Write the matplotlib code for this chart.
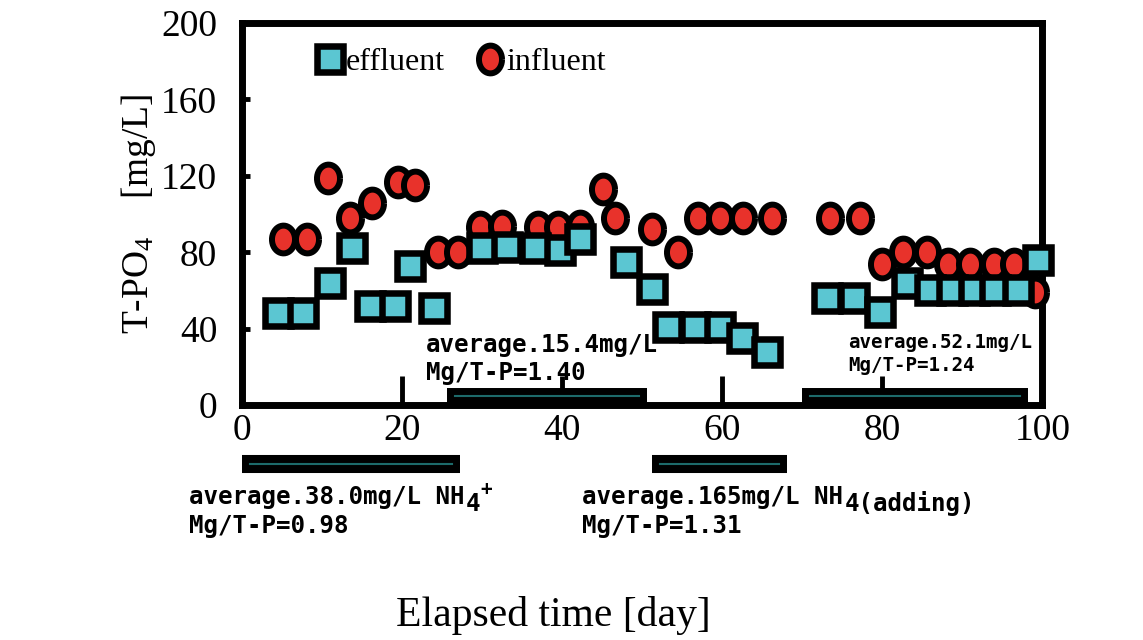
import numpy as np
import matplotlib
matplotlib.use("Agg")
import matplotlib.pyplot as plt
from matplotlib.lines import Line2D

# effluent / influent T-PO4 (mg/L) vs elapsed day
eff_day = [4.4, 7.6, 11.0, 13.75, 16.0, 19.1, 21.0, 23.9, 30.0, 33.1, 36.6, 39.75, 42.25,
           47.9, 51.25, 53.25, 56.6, 59.75, 62.4, 65.6, 73.1, 76.4, 79.75, 83.1, 86.0,
           88.75, 91.4, 94.1, 96.9, 99.4]
eff_val = [48, 48, 64, 82, 52, 52, 73, 51, 82, 83, 82, 81, 87,
           75, 61, 41, 41, 41, 35, 28, 56, 56, 49, 64, 60,
           60, 60, 60, 60, 76]

inf_day = [5.1, 8.1, 10.75, 13.5, 16.25, 19.4, 21.6, 24.4, 27.0, 29.75, 32.5, 36.9, 39.5,
           42.25, 45.1, 46.6, 51.25, 54.4, 56.9, 59.75, 62.6, 66.25, 73.5, 77.25, 80.0,
           82.6, 85.6, 88.25, 91.0, 93.9, 96.4, 99.1]
inf_val = [87, 87, 119, 98, 106, 117, 115, 80, 80, 93, 94, 93, 93,
           94, 113, 98, 92, 80, 98, 98, 98, 98, 98, 98, 74,
           80, 80, 74, 74, 74, 74, 59]

# operating periods (start day, end day)
periods_top = [(25.6, 50.6), (70.0, 98.2)]
periods_bottom = [(0.0, 27.2), (51.2, 68.1)]
top_line1 = ["average.15.4mg/L", "average.52.1mg/L"]
top_line2 = ["Mg/T-P=1.40", "Mg/T-P=1.24"]
bot_line1 = ["average.38.0mg/L NH", "average.165mg/L NH"]
bot_suffix = ["4", "4(adding)"]
bot_line2 = ["Mg/T-P=0.98", "Mg/T-P=1.31"]

serif = 'Liberation Serif'
mono = 'DejaVu Sans Mono'
cyan = '#5bc6d2'
red = '#e8322b'
teal = '#1d6a6a'

t = np.linspace(0, 2 * np.pi, 40)
ellipse = np.column_stack([0.83 * np.cos(t), np.sin(t)])

fig = plt.figure(figsize=(11.43, 6.4), dpi=100)
ax = fig.add_axes([0.212, 0.367, 0.700, 0.597])

ax.plot(inf_day, inf_val, ls='none', marker=ellipse, ms=20, mfc=red, mec='black',
        mew=4.3, clip_on=False, zorder=3)
ax.plot(eff_day, eff_val, ls='none', marker='s', ms=19, mfc=cyan, mec='black',
        mew=4.7, clip_on=False, zorder=4)

# period bars
for (a, b) in periods_top:
    ax.plot([a, b], [5, 5], color='black', lw=11.5, solid_capstyle='butt', zorder=2)
    ax.plot([a + 1.0, b - 1.0], [5, 5], color=teal, lw=1.5, zorder=2.5)
for (a, b) in periods_bottom:
    ax.plot([a, b], [-31, -31], color='black', lw=13, solid_capstyle='butt', clip_on=False)
    ax.plot([a + 1.0, b - 1.0], [-31, -31], color=teal, lw=1.5, clip_on=False)


def note(x, y, l1, l2, size, suffix=None, plus=False):
    kw = dict(family=mono, fontsize=size, fontweight='bold')
    t1 = ax.text(x, y, l1, va='top', clip_on=False, zorder=5, **kw)
    ax.annotate(l2, xy=(0, 0), xycoords=t1, xytext=(0, -3), textcoords='offset points',
                va='top', zorder=5, **kw)
    if suffix:
        t2 = ax.annotate(suffix, xy=(1, 0), xycoords=t1, xytext=(1, -5),
                         textcoords='offset points', va='bottom', **kw)
        if plus:
            ax.annotate('+', xy=(1, 1), xycoords=t2, xytext=(0, 9),
                        textcoords='offset points', va='top', **dict(kw, fontsize=size * 0.8))


note(22.9, 38, top_line1[0], top_line2[0], 17.4)
note(75.7, 38, top_line1[1], top_line2[1], 13.8)
note(-6.7, -42, bot_line1[0], bot_line2[0], 17.4, bot_suffix[0], plus=True)
note(42.5, -42, bot_line1[1], bot_line2[1], 17.4, bot_suffix[1])

ax.set_xlim(0, 100)
ax.set_ylim(0, 200)
ax.set_xticks([0, 20, 40, 60, 80, 100])
ax.set_yticks([0, 40, 80, 120, 160, 200])
for s in ax.spines.values():
    s.set_linewidth(5)
ax.tick_params(axis='x', direction='in', length=21, width=3.5, pad=6,
               labelsize=27, top=False)
ax.tick_params(axis='y', direction='in', length=6, width=3.5, pad=18,
               labelsize=27, right=False)
for lab in ax.get_xticklabels() + ax.get_yticklabels():
    lab.set_family(serif)

ax.set_ylabel('T-PO$\\mathregular{_4}$    [mg/L]', family=serif, fontsize=27)
ax.yaxis.set_label_coords(-0.105, 0.5)
ax.set_xlabel('Elapsed time [day]', family=serif, fontsize=30)
ax.xaxis.set_label_coords(0.389, -0.50)
ax.xaxis.label.set_va('top')

handles = [Line2D([], [], ls='none', marker='s', ms=19, mfc=cyan, mec='black', mew=4.7),
           Line2D([], [], ls='none', marker=ellipse, ms=20, mfc=red, mec='black', mew=4.3)]
ax.legend(handles, ['effluent', 'influent'], loc='upper left', bbox_to_anchor=(0.058, 1.01),
          ncol=2, frameon=False, handlelength=0.8, handletextpad=0.1, columnspacing=1.0,
          prop={'family': serif, 'size': 23})

fig.savefig('out.png', dpi=100)
